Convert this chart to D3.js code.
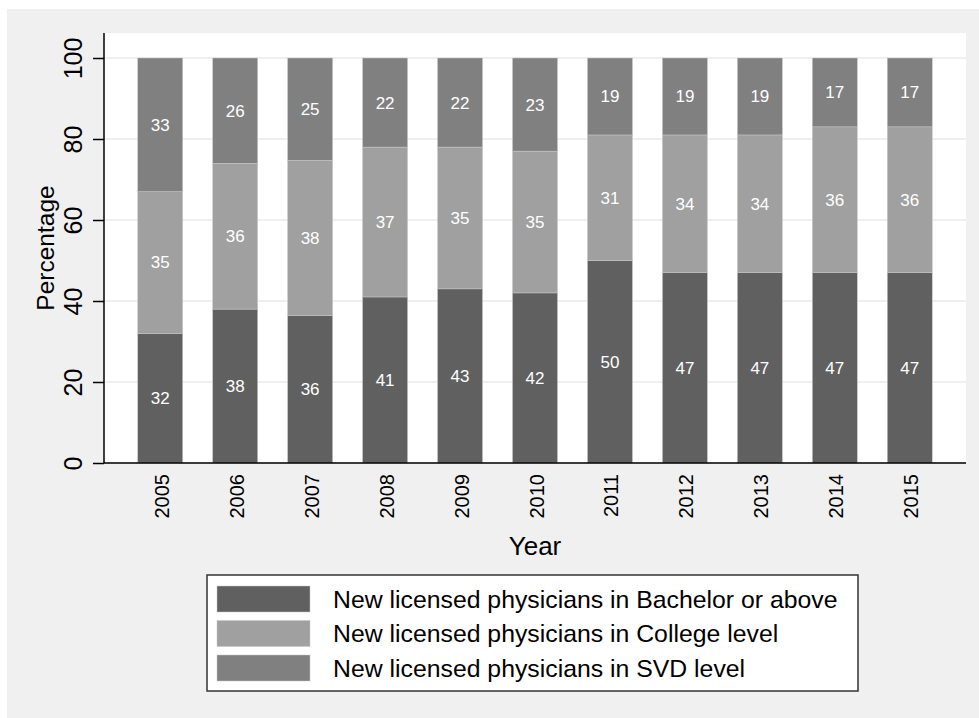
<!DOCTYPE html>
<html>
<head>
<meta charset="utf-8">
<script src="https://cdn.jsdelivr.net/npm/d3@7"></script>
<style>
  html, body { margin: 0; padding: 0; background: #ffffff; }
  svg { display: block; }
  text { font-family: "Liberation Sans", Arial, Helvetica, sans-serif; }
</style>
</head>
<body>
<svg id="chart" width="979" height="718"></svg>
<script>
// ---- data ----
const years = ["2005","2006","2007","2008","2009","2010","2011","2012","2013","2014","2015"];
const bachelor = [32, 38, 36, 41, 43, 42, 50, 47, 47, 47, 47];
const college  = [35, 36, 38, 37, 35, 35, 31, 34, 34, 36, 36];
const svd      = [33, 26, 25, 22, 22, 23, 19, 19, 19, 17, 17];
const seriesKeys = ["bachelor", "college", "svd"];
const seriesLabels = [
  "New licensed physicians in Bachelor or above",
  "New licensed physicians in College level",
  "New licensed physicians in SVD level"
];
const seriesColors = ["#606060", "#a0a0a0", "#808080"];
const yTickValues = [0, 20, 40, 60, 80, 100];
const xTitle = "Year";
const yTitle = "Percentage";

// ---- layout ----
const W = 979, H = 718;
const plot = { left: 104, right: 966, top: 33, bottom: 463 };

const svg = d3.select("#chart");

// outer graph region
svg.append("rect").attr("x", 7).attr("y", 9).attr("width", W - 7).attr("height", H - 9)
  .attr("fill", "#f0f0f0");
// plot region
svg.append("rect").attr("x", plot.left).attr("y", plot.top)
  .attr("width", plot.right - plot.left).attr("height", plot.bottom - plot.top)
  .attr("fill", "#ffffff");

const rows = years.map((y, i) => ({ year: y, bachelor: bachelor[i], college: college[i], svd: svd[i] }));
const stacked = d3.stack().keys(seriesKeys).offset(d3.stackOffsetExpand)(rows);

const x = d3.scaleBand().domain(years).range([plot.left, plot.right])
  .paddingInner(0.4).paddingOuter(0.45);
const y = d3.scaleLinear().domain([0, 1]).range([463, 58]);

// gridlines
svg.append("g").selectAll("line").data(yTickValues).join("line")
  .attr("x1", plot.left).attr("x2", plot.right)
  .attr("y1", d => y(d / 100)).attr("y2", d => y(d / 100))
  .attr("stroke", "#eaeaea").attr("stroke-width", 1.5);

// bars
const layers = svg.append("g").selectAll("g").data(stacked).join("g")
  .attr("fill", (d, i) => seriesColors[i]);
layers.selectAll("rect").data(d => d).join("rect")
  .attr("x", d => x(d.data.year))
  .attr("width", x.bandwidth())
  .attr("y", d => y(d[1]))
  .attr("height", d => y(d[0]) - y(d[1]))
  .attr("stroke", "#c8c8c8").attr("stroke-width", 0.5);

// value labels
const labelG = svg.append("g");
stacked.forEach((layer) => {
  labelG.selectAll(null).data(layer).join("text")
    .attr("x", d => x(d.data.year) + x.bandwidth() / 2)
    .attr("y", d => y((d[0] + d[1]) / 2))
    .attr("dy", "0.35em")
    .attr("text-anchor", "middle")
    .attr("font-size", 17)
    .attr("fill", "#ffffff")
    .text(d => d.data[layer.key]);
});

// y axis
const yAxis = d3.axisLeft(y)
  .tickValues(yTickValues.map(v => v / 100))
  .tickSize(11)
  .tickFormat(d => Math.round(d * 100));
const yg = svg.append("g").attr("transform", `translate(${plot.left},0)`).call(yAxis);
yg.select(".domain").attr("d", `M0,${plot.top}V${plot.bottom}`).attr("stroke", "#000").attr("stroke-width", 1.5);
yg.selectAll(".tick line").attr("stroke", "#000").attr("stroke-width", 1.5);
yg.selectAll(".tick text")
  .attr("transform", "rotate(-90)")
  .attr("x", 0).attr("y", -22).attr("dy", 0)
  .attr("text-anchor", "middle")
  .attr("font-size", 25)
  .attr("font-family", "'Liberation Sans', Arial, sans-serif")
  .attr("fill", "#000");

// x axis
const xAxis = d3.axisBottom(x).tickSize(0).tickPadding(0);
const xg = svg.append("g").attr("transform", `translate(0,${plot.bottom})`).call(xAxis);
xg.select(".domain").attr("d", `M${plot.left},0H${plot.right}`).attr("stroke", "#000").attr("stroke-width", 1.5);
xg.selectAll(".tick text")
  .attr("transform", "rotate(-90)")
  .attr("x", -11).attr("y", 8.5).attr("dy", 0)
  .attr("text-anchor", "end")
  .attr("font-size", 20)
  .attr("font-family", "'Liberation Sans', Arial, sans-serif")
  .attr("fill", "#000");

// axis titles
svg.append("text")
  .attr("x", (plot.left + plot.right) / 2).attr("y", 555)
  .attr("text-anchor", "middle").attr("font-size", 26).attr("fill", "#000")
  .text(xTitle);
svg.append("text")
  .attr("transform", `translate(54,${(plot.top + plot.bottom) / 2}) rotate(-90)`)
  .attr("text-anchor", "middle").attr("font-size", 24.5).attr("fill", "#000")
  .text(yTitle);

// legend
const legend = svg.append("g");
legend.append("rect").attr("x", 207).attr("y", 575).attr("width", 651).attr("height", 116)
  .attr("fill", "#ffffff").attr("stroke", "#333").attr("stroke-width", 1.5);
const items = legend.selectAll("g.item").data(seriesLabels).join("g").attr("class", "item")
  .attr("transform", (d, i) => `translate(0,${599 + i * 34.5})`);
items.append("rect").attr("x", 217).attr("y", -13).attr("width", 93).attr("height", 26)
  .attr("fill", (d, i) => seriesColors[i]).attr("stroke", "#c8c8c8").attr("stroke-width", 0.5);
items.append("text").attr("x", 333).attr("y", 0).attr("dy", "0.35em")
  .attr("font-size", 24.8).attr("fill", "#000").text(d => d);
</script>
</body>
</html>
